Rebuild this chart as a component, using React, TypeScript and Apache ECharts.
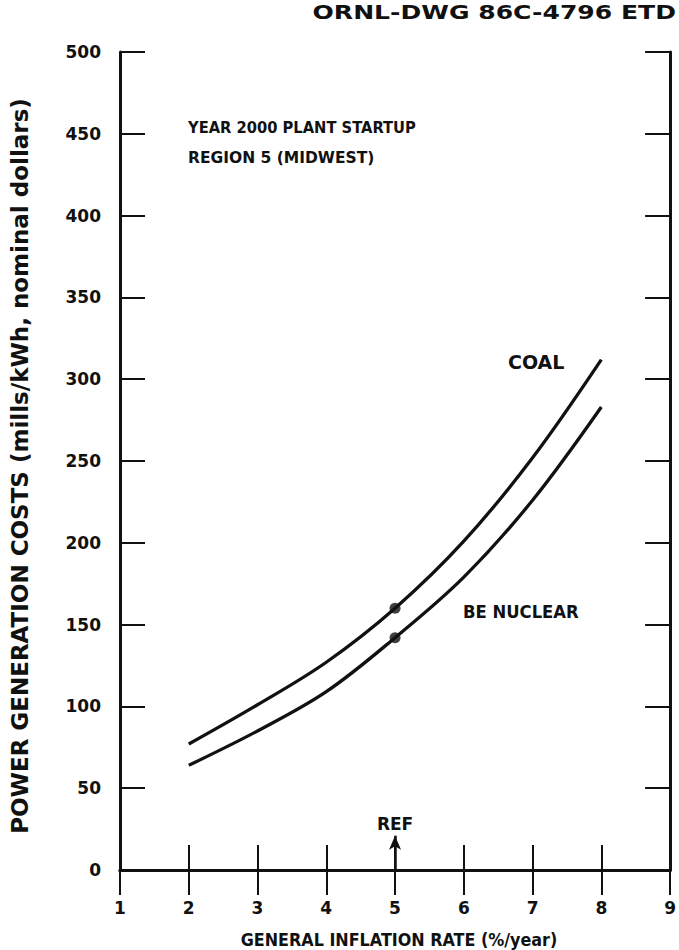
import { useEffect, useRef } from "react";
import * as echarts from "echarts";

// ---- data ----
const inflationRates = [2, 3, 4, 5, 6, 7, 8];
const coalCosts = [77, 101, 127, 160, 201, 252, 312];
const nuclearCosts = [64, 85, 109, 142, 179, 226, 283];
const xRange = [1, 9];
const yRange = [0, 500];
const xStep = 1;
const yStep = 50;
const refRate = 5;
const refArrowTop = 21;

const titleText = "ORNL-DWG 86C-4796 ETD";
const noteLines = ["YEAR 2000 PLANT STARTUP", "REGION 5 (MIDWEST)"];
const coalLabel = "COAL";
const nuclearLabel = "BE NUCLEAR";
const xAxisTitle = "GENERAL INFLATION RATE (%/year)";
const yAxisTitle = "POWER GENERATION COSTS (mills/kWh, nominal dollars)";
const refLabel = "REF";

const FONT = "DejaVu Sans";
const INK = "#111";

export default function App() {
  const ref = useRef<HTMLDivElement>(null);
  useEffect(() => {
    document.body.style.margin = "0";
    if (!ref.current) return;
    const chart = echarts.init(ref.current, null, { renderer: "svg" });
    const refIdx = inflationRates.indexOf(refRate);
    const baseAxis = {
      type: "value" as const,
      splitLine: { show: false },
      axisLine: { show: true, lineStyle: { color: INK, width: 3 } },
      axisTick: { show: true, inside: true, length: 25, lineStyle: { color: INK, width: 2 } },
    };
    const labelStyle = { color: INK, fontFamily: FONT, fontWeight: "bold" as const, fontSize: 17 };
    const textStyle = (size: number) => ({ fill: INK, font: `bold ${size}px "${FONT}"` });
    chart.setOption({
      animation: false,
      backgroundColor: "#fff",
      grid: { left: 120, right: 1.5, top: 52, bottom: 80 },
      xAxis: [
        { ...baseAxis, position: "bottom", min: xRange[0], max: xRange[1], interval: xStep,
          axisLabel: { ...labelStyle, margin: 29 } },
        { ...baseAxis, position: "top", min: xRange[0], max: xRange[1], interval: xStep,
          axisLabel: { show: false } },
      ],
      yAxis: [
        { ...baseAxis, position: "left", min: yRange[0], max: yRange[1], interval: yStep,
          axisLabel: { ...labelStyle, margin: 19 } },
        { ...baseAxis, position: "right", min: yRange[0], max: yRange[1], interval: yStep,
          axisLabel: { show: false } },
      ],
      series: [
        {
          name: "Coal", type: "line", smooth: 0.35, symbol: "none",
          lineStyle: { color: INK, width: 3.3 },
          data: inflationRates.map((x, i) => [x, coalCosts[i]]),
        },
        {
          name: "BE Nuclear", type: "line", smooth: 0.35, symbol: "none",
          lineStyle: { color: INK, width: 3.3 },
          data: inflationRates.map((x, i) => [x, nuclearCosts[i]]),
          markLine: {
            silent: true,
            symbol: ["none", "arrow"],
            symbolSize: [9, 14],
            lineStyle: { color: INK, width: 2.5, type: "solid" },
            label: {
              show: true, position: "end", formatter: refLabel, distance: 3,
              color: INK, fontFamily: FONT, fontWeight: "bold", fontSize: 17,
            },
            data: [[{ coord: [refRate, yRange[0]] }, { coord: [refRate, refArrowTop] }]],
          },
        },
        {
          name: "Reference", type: "scatter", symbol: "circle", symbolSize: 11,
          itemStyle: { color: INK },
          data: [[refRate, coalCosts[refIdx]], [refRate, nuclearCosts[refIdx]]],
        },
      ],
      graphic: [
        { type: "text", x: 676, y: 12, scaleX: 1.32, style: { text: titleText, ...textStyle(19), align: "right", verticalAlign: "middle" } },
        { type: "text", x: 188, y: 128, scaleX: 0.92, style: { text: noteLines[0], ...textStyle(16), verticalAlign: "middle" } },
        { type: "text", x: 188, y: 157, scaleX: 0.94, style: { text: noteLines[1], ...textStyle(16.5), verticalAlign: "middle" } },
        { type: "text", x: 508, y: 362, style: { text: coalLabel, ...textStyle(19), verticalAlign: "middle" } },
        { type: "text", x: 463, y: 612, scaleX: 0.94, style: { text: nuclearLabel, ...textStyle(17.5), verticalAlign: "middle" } },
        { type: "text", x: 399, y: 940, scaleX: 0.94, style: { text: xAxisTitle, ...textStyle(17), align: "center", verticalAlign: "middle" } },
        { type: "text", x: 20, y: 466, rotation: Math.PI / 2, style: { text: yAxisTitle, ...textStyle(23), align: "center", verticalAlign: "middle" } },
      ],
    });
    return () => chart.dispose();
  }, []);
  return <div ref={ref} style={{ width: 679, height: 950 }} />;
}
